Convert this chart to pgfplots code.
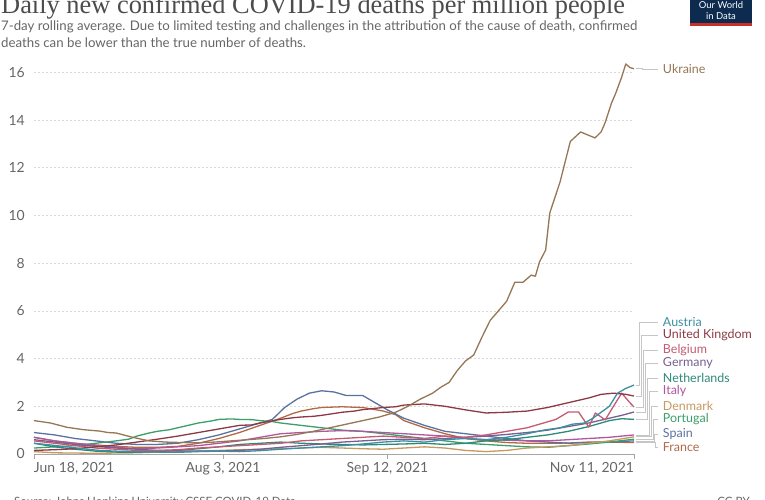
\documentclass[border=0pt]{standalone}
\usepackage{pgfplots}
\usepackage{pgfplotstable}
\pgfplotsset{compat=1.18}
\usepackage{fontspec}
\setmainfont{Lato}
\newfontfamily\titlefont{Liberation Serif}

\definecolor{cUkr}{HTML}{967654}
\definecolor{cAut}{HTML}{3D8EA3}
\definecolor{cUK}{HTML}{8B3A45}
\definecolor{cBel}{HTML}{C45A73}
\definecolor{cGer}{HTML}{76608F}
\definecolor{cNld}{HTML}{2E8A78}
\definecolor{cIta}{HTML}{B0579E}
\definecolor{cDnk}{HTML}{C49A62}
\definecolor{cPrt}{HTML}{3C9E6A}
\definecolor{cEsp}{HTML}{5A72A0}
\definecolor{cFra}{HTML}{B06A45}
\definecolor{txtgray}{HTML}{666666}
\definecolor{owidblue}{HTML}{0D2A4F}
\definecolor{owidred}{HTML}{C8302B}

% day 0 = Jun 18, 2021; day 146 = Nov 11, 2021
\pgfplotstableread{
d v
0 1.40
4 1.30
8 1.12
12 1.02
16 0.96
18 0.90
20 0.88
24 0.70
28 0.55
32 0.50
36 0.48
40 0.47
44 0.50
48 0.55
52 0.60
56 0.65
60 0.72
64 0.82
68 0.95
72 1.10
76 1.25
80 1.40
84 1.55
88 1.75
91 2.00
94 2.30
97 2.55
99 2.80
101 3.00
103 3.50
105 3.90
107 4.15
109 4.90
111 5.60
113 6.00
115 6.40
117 7.20
119 7.20
121 7.50
122 7.45
123 8.05
124.5 8.55
125.5 10.1
128 11.4
130.5 13.1
133 13.5
136.5 13.25
138 13.5
139 13.9
140.5 14.7
141.5 15.1
143 15.8
144 16.35
145 16.2
146 16.15
}\ukraine

\pgfplotstableread{
d v
0 0.45
4 0.38
8 0.30
12 0.22
16 0.15
20 0.12
25 0.10
30 0.08
35 0.07
40 0.10
45 0.12
50 0.10
55 0.14
60 0.20
65 0.25
70 0.30
75 0.35
80 0.42
85 0.50
90 0.55
95 0.50
100 0.60
105 0.65
110 0.60
115 0.70
120 0.85
124 1.00
128 1.10
131 1.25
134 1.30
136 1.50
138 1.75
140 2.00
142 2.55
144 2.75
146 2.89
}\austria

\pgfplotstableread{
d v
0 0.15
5 0.18
10 0.22
15 0.30
20 0.38
25 0.50
30 0.62
35 0.75
40 0.90
45 1.05
50 1.20
53 1.22
55 1.30
60 1.45
63 1.52
65 1.55
68 1.58
70 1.62
75 1.75
78 1.80
80 1.86
85 1.95
88 1.98
90 2.05
95 2.10
98 2.04
100 2.00
105 1.85
110 1.72
115 1.75
120 1.80
125 1.95
130 2.15
135 2.35
138 2.50
141 2.55
144 2.50
146 2.43
}\uk

\pgfplotstableread{
d v
0 0.55
5 0.45
10 0.35
15 0.25
20 0.20
25 0.15
30 0.15
35 0.18
40 0.25
45 0.30
50 0.35
55 0.40
60 0.45
65 0.55
70 0.60
75 0.65
80 0.70
85 0.75
90 0.70
95 0.65
100 0.75
105 0.70
110 0.80
115 0.95
120 1.10
124 1.30
127 1.45
130 1.76
132.5 1.76
135 1.13
136.6 1.72
139 1.43
141 2.00
143 2.55
145 2.15
146 1.97
}\belgium

\pgfplotstableread{
d v
0 0.60
5 0.50
10 0.40
15 0.32
20 0.25
25 0.20
30 0.15
35 0.13
40 0.12
45 0.12
50 0.15
55 0.20
60 0.28
65 0.35
70 0.42
75 0.50
80 0.55
85 0.60
90 0.62
95 0.60
100 0.65
105 0.70
110 0.75
115 0.82
120 0.90
125 1.00
130 1.15
135 1.30
140 1.50
143 1.62
146 1.76
}\germany

\pgfplotstableread{
d v
0 0.45
5 0.30
10 0.20
15 0.12
20 0.08
25 0.07
30 0.10
35 0.15
40 0.22
45 0.30
50 0.40
55 0.45
60 0.50
65 0.45
70 0.42
75 0.40
80 0.38
85 0.40
90 0.42
95 0.45
100 0.40
105 0.45
110 0.55
115 0.60
120 0.70
125 0.80
130 0.95
135 1.15
140 1.40
143 1.48
146 1.45
}\netherlands

\pgfplotstableread{
d v
0 0.70
5 0.55
10 0.45
15 0.35
20 0.28
25 0.22
30 0.25
35 0.30
40 0.35
45 0.45
50 0.55
55 0.70
60 0.85
65 0.90
70 0.95
75 0.98
80 0.95
85 0.90
90 0.85
95 0.80
100 0.75
105 0.65
110 0.60
115 0.58
120 0.55
125 0.55
130 0.60
135 0.65
140 0.70
146 0.80
}\italy

\pgfplotstableread{
d v
0 0.10
5 0.05
10 0.04
15 0.03
20 0.04
25 0.05
30 0.08
35 0.10
40 0.12
45 0.15
50 0.18
55 0.20
60 0.22
65 0.25
70 0.28
75 0.25
80 0.22
85 0.20
90 0.25
95 0.30
100 0.25
105 0.15
110 0.10
115 0.15
120 0.25
125 0.30
130 0.35
135 0.45
140 0.55
146 0.72
}\denmark

\pgfplotstableread{
d v
0 0.25
5 0.30
10 0.35
15 0.45
20 0.55
23 0.62
25 0.75
28 0.88
30 0.95
33 1.02
35 1.10
38 1.22
40 1.30
43 1.38
45 1.45
48 1.47
50 1.45
53 1.44
55 1.40
58 1.36
60 1.30
65 1.20
70 1.10
75 1.00
80 0.95
85 0.85
90 0.75
95 0.65
100 0.55
105 0.45
110 0.40
115 0.35
120 0.30
125 0.28
130 0.35
135 0.42
140 0.50
146 0.62
}\portugal

\pgfplotstableread{
d v
0 0.90
5 0.80
10 0.65
15 0.55
20 0.45
25 0.40
30 0.40
35 0.45
40 0.60
45 0.80
50 1.05
55 1.30
58 1.45
61 1.95
64 2.30
67 2.55
70 2.65
73 2.60
76 2.45
80 2.45
82 2.25
84 2.05
86 1.85
90 1.50
95 1.20
100 0.95
105 0.85
110 0.75
115 0.65
120 0.55
125 0.50
130 0.45
135 0.48
140 0.50
146 0.55
}\spain

\pgfplotstableread{
d v
0 0.70
5 0.55
10 0.45
15 0.38
20 0.32
25 0.28
30 0.28
35 0.32
40 0.45
45 0.65
50 0.90
55 1.20
60 1.50
63 1.70
65 1.80
68 1.90
70 1.95
75 1.98
78 1.96
80 1.95
85 1.80
88 1.65
90 1.40
95 1.10
100 0.85
105 0.65
110 0.55
115 0.48
120 0.45
125 0.45
130 0.46
135 0.50
140 0.50
146 0.48
}\france

% end value, label y, x of vertical, colour, name
\newcommand{\lbl}[5]{%
  \draw[gray!45, line width=0.7bp] (axis cs:146.4,#1) -- (axis cs:#3,#1) -- (axis cs:#3,#2) -- (axis cs:151.8,#2);
  \node[anchor=west, inner sep=0pt, text=#4, font=\fontsize{12.5}{14}\selectfont] at (axis cs:153,#2) {#5};}

\begin{document}
\begin{tikzpicture}
\useasboundingbox (0bp,0bp) rectangle (765bp,500bp);
\clip (0bp,0bp) rectangle (765bp,500bp);

\node[anchor=base west, inner sep=0pt, text=black!70, font=\titlefont\fontsize{26.5}{30}\selectfont] at (1bp,486bp) {Daily new confirmed COVID-19 deaths per million people};
\node[anchor=base west, inner sep=0pt, text=txtgray, font=\fontsize{13.3}{15}\selectfont] at (1bp,469bp) {7-day rolling average. Due to limited testing and challenges in the attribution of the cause of death, confirmed};
\node[anchor=base west, inner sep=0pt, text=txtgray, font=\fontsize{13.3}{15}\selectfont] at (1bp,452bp) {deaths can be lower than the true number of deaths.};

\fill[owidblue] (690bp,477bp) rectangle (752bp,500bp);
\fill[owidred] (690bp,474bp) rectangle (752bp,477bp);
\node[anchor=base, inner sep=0pt, text=white, font=\fontsize{9.5}{10}\selectfont] at (721bp,491bp) {Our World};
\node[anchor=base, inner sep=0pt, text=white, font=\fontsize{9.5}{10}\selectfont] at (721bp,480bp) {in Data};

\node[anchor=base west, inner sep=0pt, text=txtgray, font=\fontsize{11.5}{13}\selectfont] at (14bp,-5bp) {Source: Johns Hopkins University CSSE COVID-19 Data};
\node[anchor=base east, inner sep=0pt, text=txtgray, font=\fontsize{11.5}{13}\selectfont] at (750bp,-5bp) {CC BY};

\begin{axis}[
    at={(34bp,46bp)}, anchor=south west,
    width=600bp, height=396bp, scale only axis,
    xmin=0, xmax=146, ymin=0, ymax=16.6,
    clip=false,
    axis y line=left, axis x line=bottom,
    y axis line style={draw=none},
    x axis line style={draw=gray!70, line width=0.8bp, -},
    ytick={0,2,...,16},
    ymajorgrids,
    grid style={draw=gray!30, dash pattern=on 2bp off 2bp, line width=0.6bp},
    y tick style={draw=none},
    xtick={0,46,86,146},
    xticklabels={{\rlap{Jun 18, 2021}},{Aug 3, 2021},{Sep 12, 2021},{\llap{Nov 11, 2021}}},
    tick align=outside, major tick length=5bp,
    x tick style={draw=gray!70, line width=0.8bp},
    /pgf/number format/assume math mode=true,
    ticklabel style={text=txtgray, font=\fontsize{14}{16}\selectfont},
    yticklabel style={inner sep=0pt, xshift=-4bp},
    xticklabel style={inner sep=0pt, yshift=-3bp},
    every axis plot/.append style={line width=1.3bp, line join=round, no markers},
]
\addplot[cFra] table[x=d, y=v] {\france};
\addplot[cEsp] table[x=d, y=v] {\spain};
\addplot[cPrt] table[x=d, y=v] {\portugal};
\addplot[cDnk] table[x=d, y=v] {\denmark};
\addplot[cIta] table[x=d, y=v] {\italy};
\addplot[cNld] table[x=d, y=v] {\netherlands};
\addplot[cGer] table[x=d, y=v] {\germany};
\addplot[cBel] table[x=d, y=v] {\belgium};
\addplot[cUK] table[x=d, y=v] {\uk};
\addplot[cAut] table[x=d, y=v] {\austria};
\addplot[cUkr] table[x=d, y=v] {\ukraine};

\lbl{16.15}{16.14}{148.0}{cUkr}{Ukraine}
\lbl{2.89}{5.53}{147.2}{cAut}{Austria}
\lbl{2.43}{4.99}{147.7}{cUK}{United Kingdom}
\lbl{1.97}{4.36}{148.2}{cBel}{Belgium}
\lbl{1.76}{3.82}{148.7}{cGer}{Germany}
\lbl{1.45}{3.19}{149.2}{cNld}{Netherlands}
\lbl{0.80}{2.64}{149.7}{cIta}{Italy}
\lbl{0.72}{2.01}{150.2}{cDnk}{Denmark}
\lbl{0.62}{1.47}{150.6}{cPrt}{Portugal}
\lbl{0.55}{0.84}{151.0}{cEsp}{Spain}
\lbl{0.48}{0.29}{151.3}{cFra}{France}
\end{axis}
\end{tikzpicture}
\end{document}
